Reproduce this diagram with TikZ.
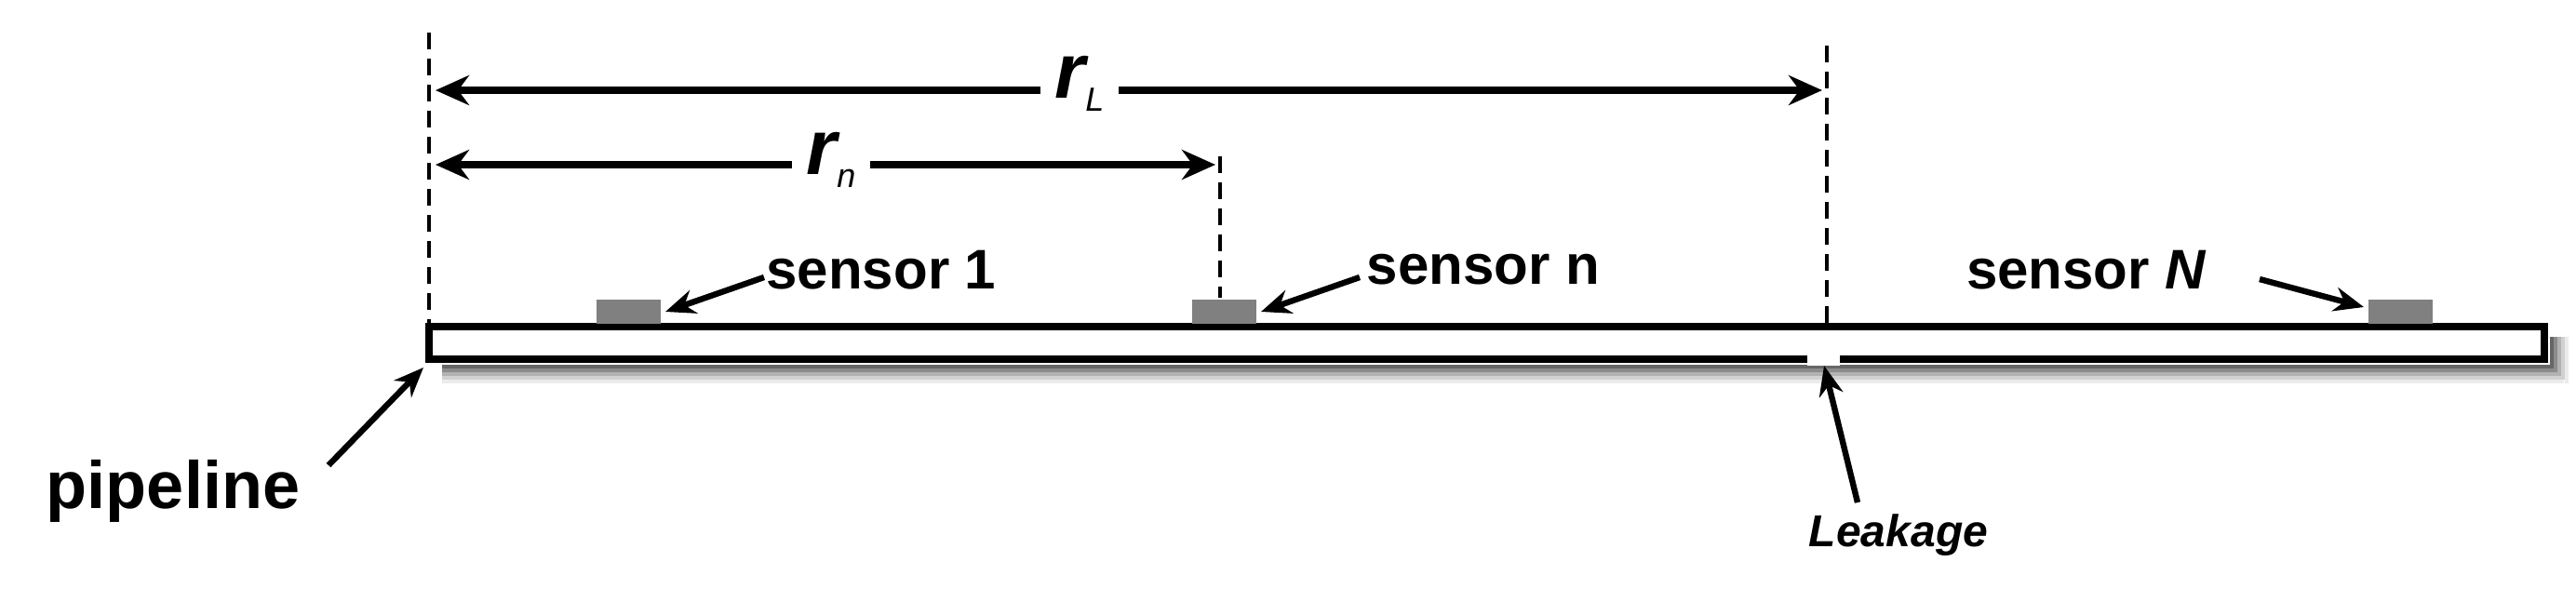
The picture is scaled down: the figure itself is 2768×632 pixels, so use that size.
\documentclass[tikz,border=0pt]{standalone}
\usepackage{fontspec}
\setmainfont{Liberation Sans}
\usetikzlibrary{arrows.meta}
\begin{document}
\begin{tikzpicture}[x=0.5pt,y=-0.5pt,
  lbl/.style={inner sep=0pt,font=\fontsize{30}{32}\selectfont\bfseries},
  rlbl/.style={fill=white,inner sep=8pt,font=\fontsize{42}{42}\selectfont\bfseries\itshape},
  ptr/.style={line width=3.2pt,-{Stealth[length=16pt,width=13pt]}},
  dim/.style={line width=3.8pt,{Stealth[length=18pt,width=16pt]}-{Stealth[length=18pt,width=16pt]}},
  vdash/.style={line width=2pt,dash pattern=on 9pt off 5pt},
  sens/.style={fill=black!50,draw=none}]
\useasboundingbox (0,0) rectangle (2768,632);
% shadow
\foreach \i/\o in {0/60,4/45,8/30,12/18,16/8}{
  \fill[black!\o] (475,392+\i) rectangle (2755,396+\i);
  \fill[black!\o] (2740+\i,362) rectangle (2744+\i,396+\i);
}
\fill[white] (462,352) rectangle (2733,385);
% pipe
\draw[line width=4pt] (461,351) rectangle (2734,386);
\fill[white] (1942,382) rectangle (1977,393);
\coordinate (leak) at (1960,393);
% sensors
\fill[sens] (641,322) rectangle (710,348);
\fill[sens] (1281,322) rectangle (1350,348);
\fill[sens] (2545,322) rectangle (2614,348);
\coordinate (s1) at (715,335);
\coordinate (sn) at (1355,335);
\coordinate (sN) at (2540,330);
% dashed
\coordinate (d0a) at (461,35); \coordinate (d0b) at (461,349);
\coordinate (dna) at (1311,168); \coordinate (dnb) at (1311,320);
\coordinate (dLa) at (1963,49); \coordinate (dLb) at (1963,349);
\draw[vdash] (d0a) -- (d0b);
\draw[vdash] (dna) -- (dnb);
\draw[vdash] (dLa) -- (dLb);
% dimension arrows
\coordinate (rLa) at (468,97); \coordinate (rLb) at (1958,97);
\coordinate (rna) at (468,177); \coordinate (rnb) at (1306,177);
\draw[dim] (rLa) -- (rLb);
\draw[dim] (rna) -- (rnb);
\node[rlbl] (rL) at (1160,90) {r\raisebox{-0.3ex}{\fontsize{18}{18}\selectfont\mdseries L}};
\node[rlbl] (rn) at (893,172) {r\raisebox{-0.3ex}{\fontsize{18}{18}\selectfont\mdseries n}};
% labels
\node[lbl] (t1) at (947,290) {sensor 1};
\node[lbl] (tn) at (1594,290) {sensor n};
\node[lbl] (tN) at (2242,290) {sensor \textit{N}};
\node[lbl,font=\fontsize{36}{38}\selectfont\bfseries] (tp) at (186,528) {pipeline};
\node[lbl,font=\fontsize{24}{26}\selectfont\bfseries\itshape] (tl) at (2040,575) {Leakage};
\coordinate (pp) at (455,395);
\draw[ptr] (821,298) -- (s1);
\draw[ptr] (1461,298) -- (sn);
\draw[ptr] (2428,300) -- (sN);
\draw[ptr] (353,500) -- (pp);
\draw[ptr] (1996,540) -- (leak);
\end{tikzpicture}
\end{document}
